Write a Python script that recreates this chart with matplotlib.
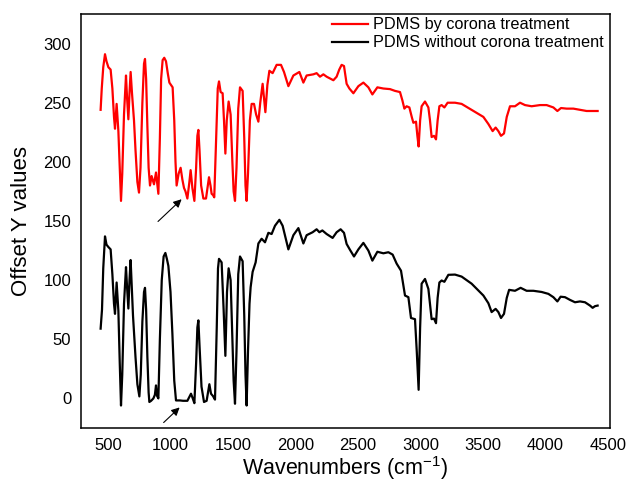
import matplotlib
matplotlib.use("Agg")
import matplotlib.pyplot as plt

plt.rcParams['font.family'] = ['Liberation Sans', 'DejaVu Sans']
plt.rcParams['mathtext.fontset'] = 'custom'
plt.rcParams['mathtext.rm'] = 'Liberation Sans'
plt.rcParams['mathtext.default'] = 'regular'

# Red: PDMS by corona treatment (offset spectrum)
red_x = [441, 450, 462, 476, 488, 503, 521, 535, 548, 556, 569, 583, 594, 604, 614,
         628, 644, 652, 663, 672, 681, 692, 708, 720, 735, 748, 760, 775, 788, 796,
         805, 815, 825, 836, 849, 868, 884, 903, 915, 925, 937, 950, 964, 978, 991,
         1017, 1030, 1040, 1049, 1065, 1081, 1095, 1108, 1120, 1135, 1150, 1161, 1175,
         1191, 1205, 1215, 1223, 1232, 1245, 1263, 1284, 1308, 1320, 1329, 1340, 1350,
         1365, 1378, 1388, 1401, 1417, 1428, 1439, 1450, 1465, 1481, 1495, 1505, 1516,
         1528, 1542, 1556, 1577, 1590, 1600, 1609, 1620, 1635, 1649, 1668, 1685, 1703,
         1718, 1737, 1759, 1775, 1791, 1817, 1849, 1884, 1908, 1943, 1983, 2031, 2063,
         2089, 2143, 2169, 2196, 2223, 2249, 2303, 2329, 2350, 2369, 2388, 2409, 2431,
         2463, 2503, 2543, 2583, 2615, 2655, 2703, 2756, 2796, 2836, 2855, 2871, 2889,
         2911, 2930, 2943, 2964, 2975, 2985, 2997, 3009, 3036, 3063, 3076, 3089, 3108,
         3124, 3137, 3151, 3169, 3191, 3217, 3276, 3329, 3423, 3503, 3543, 3577, 3601,
         3623, 3644, 3668, 3690, 3716, 3756, 3796, 3836, 3889, 3956, 4009, 4063, 4095,
         4124, 4169, 4223, 4276, 4329, 4383, 4417]
red_y = [244, 262, 280, 291, 285, 280, 278, 262, 238, 228, 249, 226, 195, 167, 190,
         240, 273, 255, 236, 258, 276, 258, 235, 210, 183, 174, 195, 250, 283, 287,
         270, 230, 195, 180, 188, 181, 191, 173, 220, 270, 286, 288, 285, 275, 267,
         263, 235, 200, 180, 190, 195, 185, 178, 175, 169, 182, 193, 178,
         167, 195, 222, 227, 210, 180, 169, 169, 187, 180, 173, 172, 170,
         220, 262, 268, 259, 258, 235, 207, 235, 251, 240, 200, 175, 167,
         195, 245, 263, 260, 220, 180, 167, 190, 235, 249, 249, 240, 234,
         250, 266, 242, 265, 277, 275, 282, 282, 276, 264, 273, 276, 267,
         273, 274, 275, 272, 274, 272, 269, 272, 278, 282, 281, 266, 262,
         258, 264, 267, 263, 257, 263, 262, 261.5, 260, 259, 252, 245, 247,
         246, 238, 233, 234, 222, 213, 235, 247, 251, 246, 235, 221, 222,
         219, 235, 247, 248, 246, 250, 250, 249, 243, 238, 232, 226, 229,
         226, 222, 224, 238, 247, 247, 250, 248, 247, 248, 248, 246, 243,
         245.5, 245, 245, 244, 243, 243, 243]

# Black: PDMS without corona treatment
blk_x = [441, 452, 462, 476, 488, 503, 521, 535, 548, 556, 569, 583, 594, 604, 614,
         628, 644, 652, 663, 672, 681, 692, 700, 708, 720, 735, 751, 762, 775, 788,
         796, 805, 815, 825, 831, 845, 863, 875, 884, 893, 903, 915, 930, 945, 959,
         971, 983, 1000, 1015, 1030, 1044, 1076, 1100, 1120, 1135, 1150, 1164, 1178,
         1191, 1205, 1215, 1223, 1232, 1248, 1268, 1289, 1300, 1311, 1324, 1340, 1356,
         1370, 1380, 1388, 1409, 1425, 1439, 1452, 1465, 1481, 1495, 1505, 1516, 1528,
         1542, 1556, 1577, 1590, 1600, 1609, 1620, 1632, 1641, 1657, 1681, 1703, 1729,
         1756, 1783, 1809, 1836, 1871, 1897, 1943, 1983, 2023, 2063, 2089, 2137, 2169,
         2191, 2215, 2249, 2297, 2329, 2361, 2388, 2409, 2436, 2468, 2503, 2543, 2583,
         2615, 2655, 2703, 2743, 2777, 2809, 2844, 2876, 2903, 2924, 2956, 2970, 2985,
         2997, 3009, 3036, 3063, 3076, 3089, 3108, 3124, 3137, 3151, 3169, 3191, 3223,
         3276, 3329, 3409, 3503, 3543, 3569, 3601, 3623, 3644, 3668, 3690, 3709, 3756,
         3801, 3849, 3903, 3969, 4023, 4063, 4095, 4121, 4156, 4196, 4236, 4276, 4316,
         4356, 4377, 4396, 4417]
blk_y = [59, 75, 110, 137, 130, 128, 126, 105, 80, 71.5, 98, 74, 30, -6, 20,
         80, 111, 95, 76, 100, 117, 90, 70, 56, 35, 12, 1.7, 20, 65, 90,
         93.5, 75, 35, 5, -3, -2, 0, 3, 11, 2, 0, 50, 100, 120, 123,
         118, 112, 90, 55, 15, -1.7, -1.7, -2, -2, -2, 1, 4, 0,
         -4, 30, 60, 66, 45, 10, -3, -2, 5, 12, 4, 2, -1,
         60, 110, 118, 115, 75, 36, 90, 110, 100, 50, 15, -4.5, 40,
         105, 120, 116, 70, 20, -6, 40, 80, 94, 107, 115, 131, 135,
         132, 140, 139, 146, 151, 146, 126, 138, 144, 131, 138, 140.5, 143,
         140.5, 142, 139, 135.7, 140.5, 143, 140, 130.6, 125.6, 120, 126, 131.5, 125,
         116.5, 124, 122.7, 123.6, 121.6, 114, 108, 87, 85.6, 68, 67, 40, 7.3,
         60, 97, 101, 92.6, 80, 67, 67.5, 63.6, 85, 98, 99.7, 98.6, 104.5,
         104.7, 103, 97, 87, 80.5, 73, 75.7, 73, 68, 71.5, 85, 91.8, 91,
         93.5, 91, 91, 90, 88.4, 85.6, 82, 86, 85.6, 83.3, 81.3, 82, 81.3,
         78.5, 76.6, 78, 78.5]

x_ticks = [500, 1000, 1500, 2000, 2500, 3000, 3500, 4000, 4500]
y_ticks = [0, 50, 100, 150, 200, 250, 300]

fig = plt.figure(figsize=(6.3, 4.9), dpi=100)
ax = fig.add_axes([81/630, 1-428/490, (610-81)/630, (428-14)/490])

ax.plot(red_x, red_y, color='#ff0000', lw=1.6, solid_joinstyle='round',
        label='PDMS by corona treatment')
ax.plot(blk_x, blk_y, color='black', lw=1.6, solid_joinstyle='round',
        label='PDMS without corona treatment')

ax.annotate('', xy=(1105, 170), xytext=(884, 148),
            arrowprops=dict(arrowstyle='-|>', color='black', lw=0.8, mutation_scale=12))
ax.annotate('', xy=(1089, -6), xytext=(929, -22),
            arrowprops=dict(arrowstyle='-|>', color='black', lw=0.8, mutation_scale=12))

ax.set_xlim(284, 4516)
ax.set_ylim(-25, 325)
ax.set_xticks(x_ticks)
ax.set_yticks(y_ticks)
ax.tick_params(length=0, labelsize=12, pad=7)
for s in ax.spines.values():
    s.set_linewidth(1.1)

ax.set_xlabel('Wavenumbers (cm$^{-1}$)', fontsize=15.5, labelpad=1)
ax.set_ylabel('Offset Y values', fontsize=16, labelpad=8)

leg = ax.legend(loc='upper right', bbox_to_anchor=(1.0, 1.008), frameon=False,
                fontsize=11.7, handlelength=2.2, handletextpad=0.3,
                labelspacing=0.2, borderaxespad=0.0)

fig.savefig('out.png', dpi=100)
